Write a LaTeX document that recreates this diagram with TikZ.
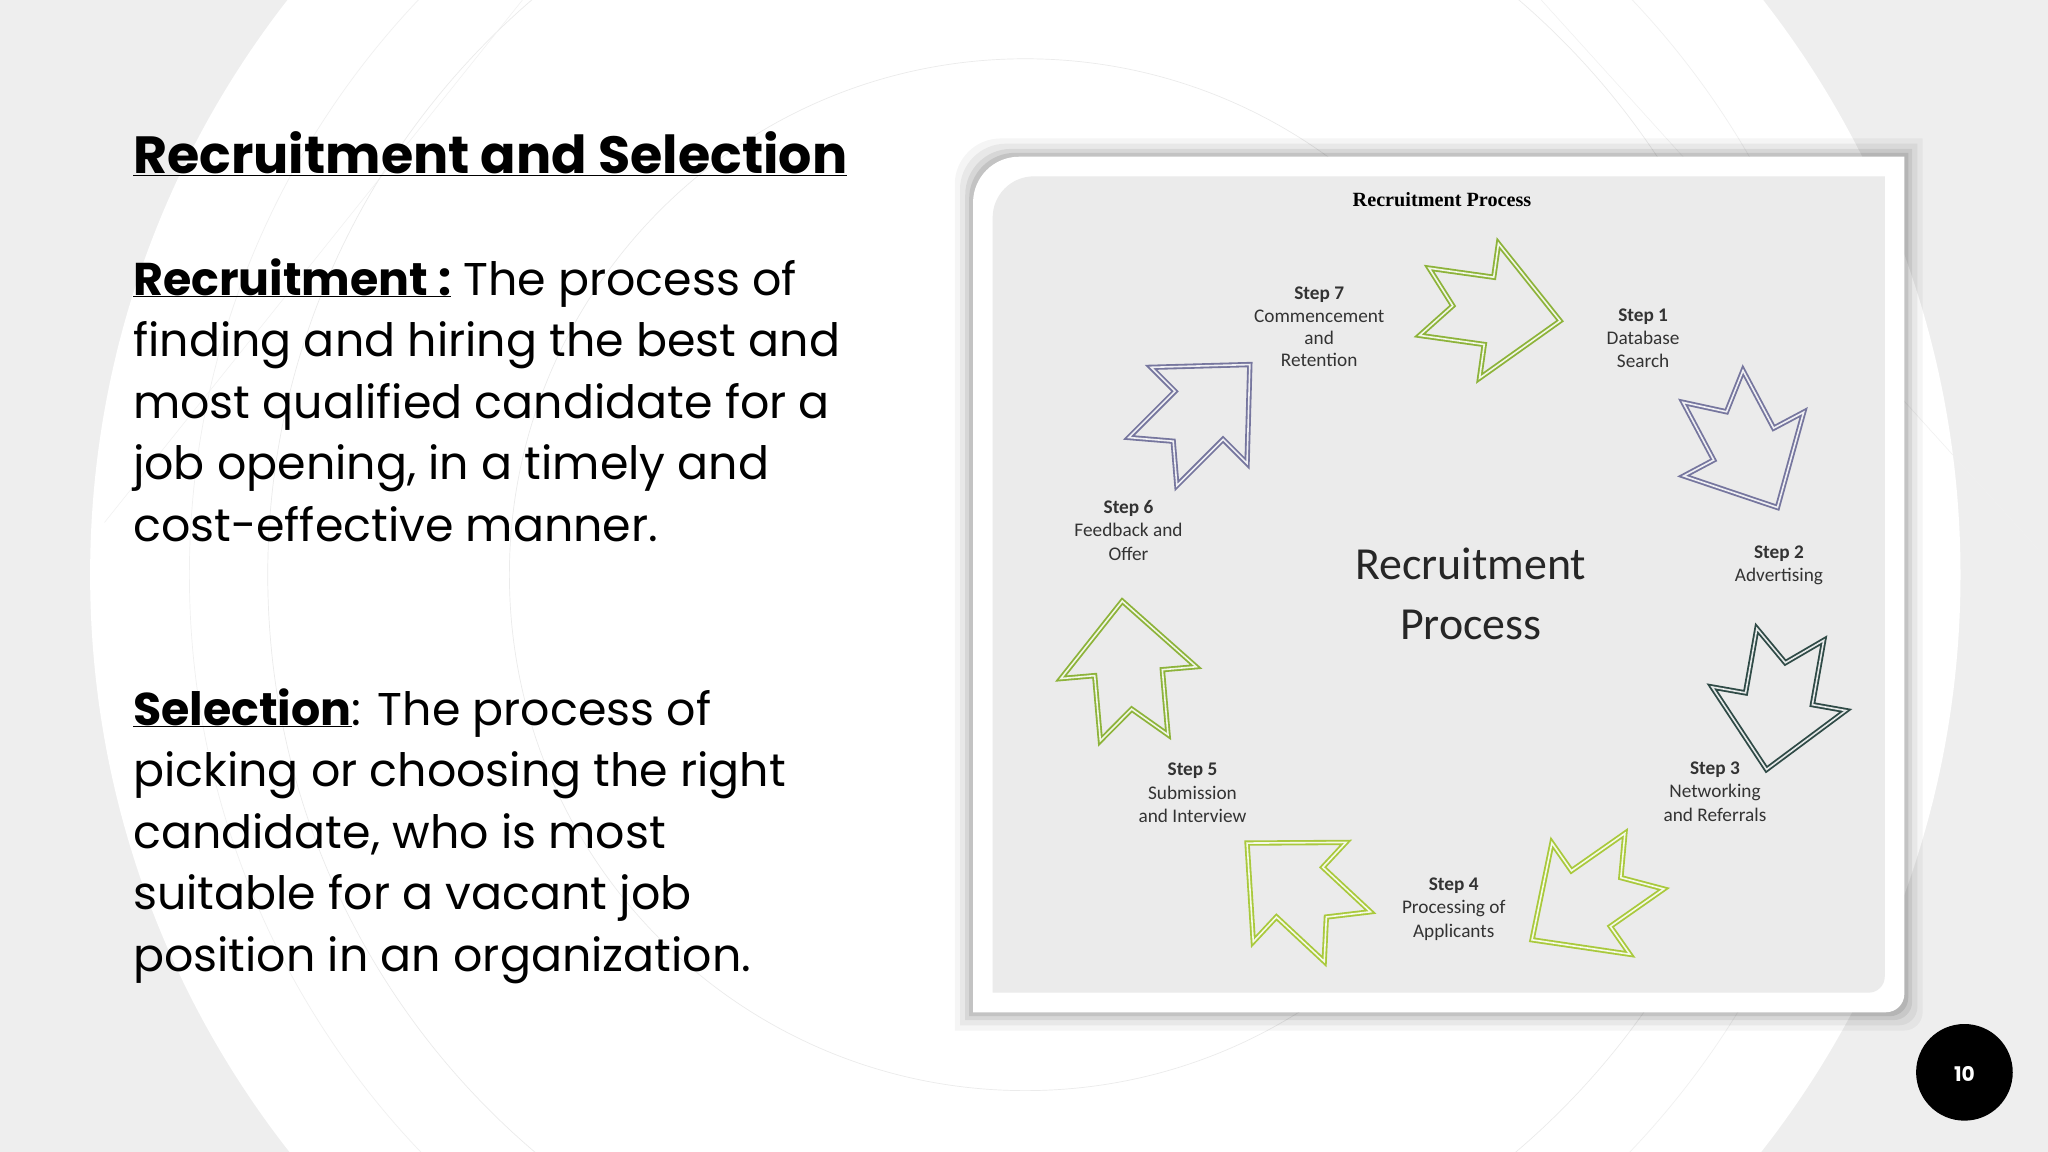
\documentclass[tikz,border=0pt]{standalone}
\usepackage{fontspec}
\setmainfont{Poppins}
\newfontfamily\calib{Carlito}
\newfontfamily\tserif{Liberation Serif}
\begin{document}
\begin{tikzpicture}[x=1mm,y=-1mm,
  every node/.style={inner sep=0pt,outer sep=0pt},
  arr/.style={line width=4pt,double=#1!12!white,double distance=3.5pt,line join=miter},
  steplab/.style={font=\calib\fontsize{42}{51}\selectfont,align=center,text=black!80},
  bodytxt/.style={font=\fontsize{100}{134}\selectfont,align=left,anchor=north west}]
\definecolor{bggray}{HTML}{EEEEEE}
\definecolor{panel}{HTML}{EBEBEB}
\definecolor{gA}{HTML}{8DB33A}
\definecolor{gB}{HTML}{A9C93C}
\definecolor{pu}{HTML}{76769E}
\definecolor{te}{HTML}{2F4A46}
\useasboundingbox (0,0) rectangle (1568,882);
\fill[bggray] (0,0) rectangle (1568,882);
\begin{scope}
\clip (0,0) rectangle (1568,882);
\fill[white] (785,440) circle (716);
\draw[black!8,line width=1.5pt] (785,440) circle (580);
\draw[black!8,line width=1.5pt] (785,440) circle (395);
\draw[black!6,line width=1.5pt] (785,440) circle (640);
\draw[black!6,line width=1.2pt] (400,0) -- (80,400);
\draw[black!6,line width=1.2pt] (1180,0) -- (1560,420);
\end{scope}
% left text
\node[anchor=base west,font=\bfseries\fontsize{114}{130}\selectfont] (title) at (102,133) {\underline{Recruitment and Selection}};
\node[bodytxt] (rec) at (102,198) {\textbf{\underline{Recruitment :}} The process of\\finding and hiring the best and\\most qualified candidate for a\\job opening, in a timely and\\cost-effective manner.};
\node[bodytxt] (sel) at (102,527) {\textbf{\underline{Selection}}: The process of\\picking or choosing the right\\candidate, who is most\\suitable for a vacant job\\position in an organization.};
% panel shadow
\foreach \oo/\op in {14/0.04,10/0.05,6/0.07,3/0.09}{
 \fill[black,opacity=\op] ({745-\oo},{775+\oo}) [rounded corners=100] -- ({745-\oo},{120-\oo}) [sharp corners] -- ({1458+\oo},{120-\oo}) [rounded corners=40] -- ({1458+\oo},{775+\oo}) [sharp corners] -- cycle;}
\fill[white] (745,775) [rounded corners=100] -- (745,120) [sharp corners] -- (1458,120) [rounded corners=40] -- (1458,775) [sharp corners] -- cycle;
\fill[panel] (760,760) [rounded corners=90] -- (760,135) [sharp corners] -- (1443,135) [rounded corners=35] -- (1443,760) [sharp corners] -- cycle;
% diagram
\node[font=\tserif\bfseries\fontsize{44}{50}\selectfont] (dt) at (1104,153) {Recruitment Process};
\node[font=\calib\fontsize{100}{131}\selectfont,align=center,text=black!85] (ctr) at (1126,455) {Recruitment\\Process};
\def\arrowshape{(55,0) -- (0,-52) -- (0,-26) -- (-50,-26) -- (-28,0) -- (-50,26) -- (0,26) -- (0,52) -- cycle}
\foreach \px/\py/\ang/\col in {1140/238/-8/gA, 1335/340/-62/pu, 1362/535/-100/te, 1218/688/-145/gB, 995/683/137/gB, 864/515/95/gA, 918/318/45/pu}{
  \draw[arr=\col,draw=\col,shift={(\px,\py)},rotate=\ang] \arrowshape;}
\node[steplab] (s7) at (1010,250) {\textbf{Step 7}\\Commencement\\[-4pt]and\\[-4pt]Retention};
\node[steplab] (s1) at (1258,259) {\textbf{Step 1}\\Database\\Search};
\node[steplab] (s2) at (1362,433) {\textbf{Step 2}\\Advertising};
\node[steplab] (s3) at (1313,606) {\textbf{Step 3}\\Networking\\and Referrals};
\node[steplab] (s4) at (1113,696) {\textbf{Step 4}\\Processing of\\Applicants};
\node[steplab] (s5) at (913,607) {\textbf{Step 5}\\Submission\\and Interview};
\node[steplab] (s6) at (864,406) {\textbf{Step 6}\\Feedback and\\Offer};
% page number
\fill[black] (1504,821) circle (37);
\node[text=white,font=\bfseries\fontsize{44}{50}\selectfont] (pg) at (1504,822) {10};
\end{tikzpicture}
\end{document}
